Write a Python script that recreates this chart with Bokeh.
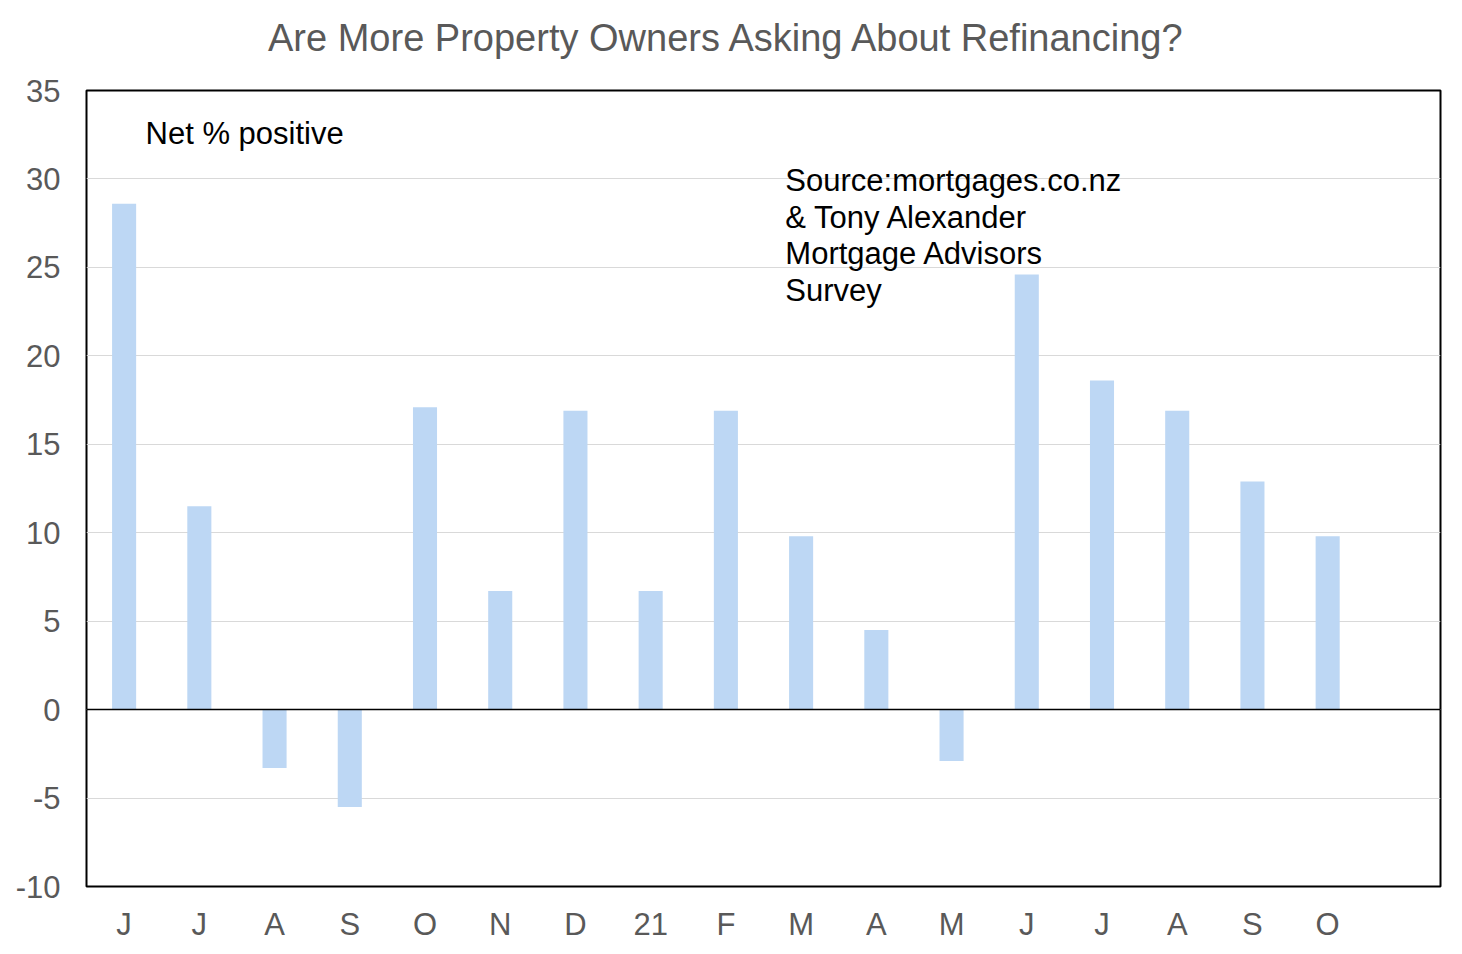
from bokeh.plotting import figure
from bokeh.models import FixedTicker, Span, Label, ColumnDataSource, Div
from bokeh.layouts import column
from bokeh.embed import file_html
from bokeh.resources import INLINE

# Data
months = ["J", "J", "A", "S", "O", "N", "D", "21", "F", "M", "A", "M", "J", "J", "A", "S", "O"]
net_positive = [28.6, 11.5, -3.3, -5.5, 17.1, 6.7, 16.9, 6.7, 16.9, 9.8, 4.5, -2.9, 24.6, 18.6, 16.9, 12.9, 9.8]
n_slots = 18
y_ticks = [-10, -5, 0, 5, 10, 15, 20, 25, 30, 35]
title_text = "Are More Property Owners Asking About Refinancing?"

FONT = "Liberation Sans"
GREY = "#595959"

xs = [i + 0.5 for i in range(len(months))]
src = ColumnDataSource(dict(x=xs, top=net_positive))

title_div = Div(
    text=('<div style="font-family:\'Liberation Sans\';font-size:38px;color:%s;'
          'margin:0;padding:16px 0 0 268px;line-height:44px;white-space:nowrap;">%s</div>'
          % (GREY, title_text)),
    width=1446, height=60, margin=0)

p = figure(width=1446, height=884, output_backend="svg", toolbar_location=None,
           x_range=(0, n_slots), y_range=(-10, 35),
           min_border_left=86, min_border_right=6, min_border_top=30, min_border_bottom=58)
p.margin = 0

p.vbar(x="x", top="top", bottom=0, width=0.32, source=src,
       fill_color="#BDD7F4", line_color=None)

p.add_layout(Span(location=0, dimension="width", line_color="black", line_width=1.5))

p.outline_line_color = "black"
p.outline_line_width = 2
p.background_fill_color = "white"
p.border_fill_color = "white"

# X axis
p.xaxis.ticker = FixedTicker(ticks=xs)
p.xaxis.major_label_overrides = {x: m for x, m in zip(xs, months)}
p.xaxis.axis_line_color = None
p.xaxis.major_tick_line_color = None
p.xaxis.minor_tick_line_color = None
p.xaxis.major_label_text_font = FONT
p.xaxis.major_label_text_font_size = "31px"
p.xaxis.major_label_text_color = GREY
p.xaxis.major_label_standoff = 14
p.xgrid.grid_line_color = None

# Y axis
p.yaxis.ticker = FixedTicker(ticks=y_ticks)
p.yaxis.major_label_overrides = {t: str(t) for t in y_ticks}
p.yaxis.axis_line_color = None
p.yaxis.major_tick_line_color = None
p.yaxis.minor_tick_line_color = None
p.yaxis.major_label_text_font = FONT
p.yaxis.major_label_text_font_size = "31px"
p.yaxis.major_label_text_color = GREY
p.yaxis.major_label_standoff = 20
p.ygrid.grid_line_color = "#D9D9D9"
p.ygrid.grid_line_width = 1

# Annotations
p.add_layout(Label(x=0.785, y=32.56, text="Net % positive", text_font=FONT,
                   text_font_size="31px", text_color="black", text_baseline="middle"))
source_lines = ["Source:mortgages.co.nz", "& Tony Alexander", "Mortgage Advisors", "Survey"]
source_y = [29.9, 27.8, 25.8, 23.7]
for t, yy in zip(source_lines, source_y):
    p.add_layout(Label(x=9.29, y=yy, text=t, text_font=FONT, text_font_size="31px",
                       text_color="black", text_baseline="middle"))

layout = column(title_div, p, spacing=0)
open("out.html", "w").write(file_html(layout, INLINE))
